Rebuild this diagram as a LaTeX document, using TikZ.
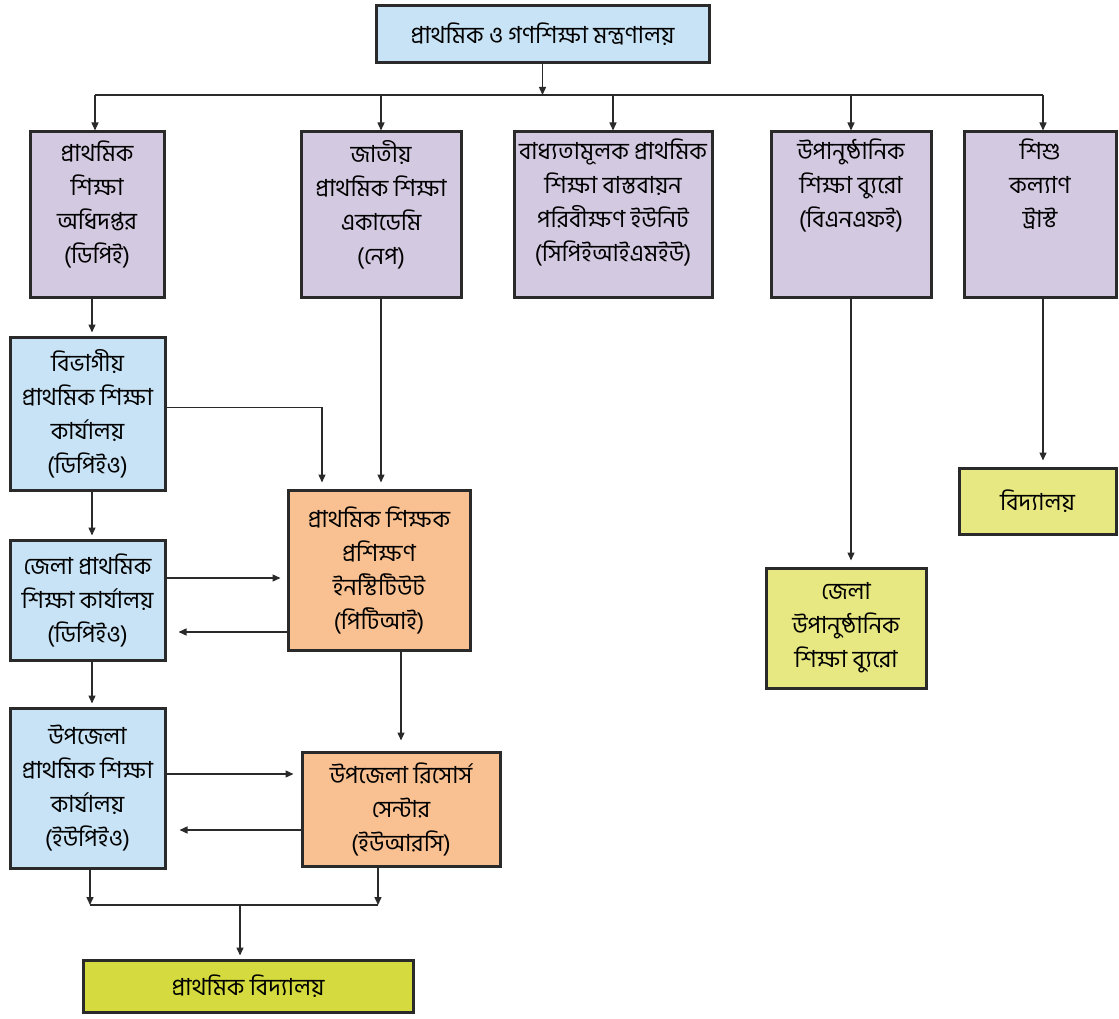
\documentclass[tikz,border=0pt]{standalone}
\usepackage{fontspec}
\setmainfont[Script=Bengali]{Hind Siliguri}
\usetikzlibrary{arrows.meta,calc}
\definecolor{purp}{HTML}{D3C9E1}
\definecolor{lblue}{HTML}{C7E3F5}
\definecolor{orng}{HTML}{F9C191}
\definecolor{lyel}{HTML}{E8E882}
\definecolor{gyel}{HTML}{D5DB3E}
\definecolor{edgec}{HTML}{2A2A2A}
\tikzset{
  boxbase/.style={draw=edgec, line width=3pt, inner sep=0pt, align=center,
    font=\fontsize{23.5}{34}\selectfont},
  pbox/.style={boxbase, fill=purp},
  bbox/.style={boxbase, fill=lblue},
  obox/.style={boxbase, fill=orng},
  ybox/.style={boxbase, fill=lyel},
  gbox/.style={boxbase, fill=gyel},
  txt/.style={inner sep=0pt, align=center, font=\fontsize{23.5}{34}\selectfont, anchor=north},
  ln/.style={draw=edgec, line width=1.4pt},
  arr/.style={ln, -{Triangle[length=8pt,width=7pt]}}
}
\begin{document}
\begin{tikzpicture}[x=1pt,y=-1pt]
\useasboundingbox (0,0) rectangle (1119,1019);
% boxes
\node[bbox, minimum width=333pt, minimum height=57pt] (top) at (542.5,34.5) {প্রাথমিক ও গণশিক্ষা মন্ত্রণালয়};

\node[pbox, minimum width=134pt, minimum height=165pt] (dpe) at (97,214.5) {};
\node[pbox, minimum width=160pt, minimum height=165pt] (nape) at (381,214.5) {};
\node[pbox, minimum width=198pt, minimum height=165pt] (cpe) at (613,214.5) {};
\node[pbox, minimum width=160pt, minimum height=165pt] (bnfe) at (851,214.5) {};
\node[pbox, minimum width=152pt, minimum height=165pt] (trust) at (1040,214.5) {};
\node[txt] (dpeT) at ([yshift=-10pt]dpe.north) {প্রাথমিক\\শিক্ষা\\অধিদপ্তর\\(ডিপিই)};
\node[txt] (napeT) at ([yshift=-10pt]nape.north) {জাতীয়\\প্রাথমিক শিক্ষা\\একাডেমি\\(নেপ)};
\node[txt] (cpeT) at ([yshift=-8pt]cpe.north) {বাধ্যতামূলক প্রাথমিক\\শিক্ষা বাস্তবায়ন\\পরিবীক্ষণ ইউনিট\\(সিপিইআইএমইউ)};
\node[txt] (bnfeT) at ([yshift=-8pt]bnfe.north) {উপানুষ্ঠানিক\\শিক্ষা ব্যুরো\\(বিএনএফই)};
\node[txt] (trustT) at ([yshift=-8pt]trust.north) {শিশু\\কল্যাণ\\ট্রাস্ট};

\node[bbox, minimum width=155pt, minimum height=153pt] (b1) at (87.5,413.5) {বিভাগীয়\\প্রাথমিক শিক্ষা\\কার্যালয়\\(ডিপিইও)};
\node[bbox, minimum width=155pt, minimum height=120pt] (b2) at (87.5,600) {জেলা প্রাথমিক\\শিক্ষা কার্যালয়\\(ডিপিইও)};
\node[bbox, minimum width=155pt, minimum height=160pt] (b3) at (87.5,788) {উপজেলা\\প্রাথমিক শিক্ষা\\কার্যালয়\\(ইউপিইও)};

\node[obox, minimum width=182pt, minimum height=160pt] (pti) at (379,570) {প্রাথমিক শিক্ষক\\প্রশিক্ষণ\\ইনস্টিটিউট\\(পিটিআই)};
\node[obox, minimum width=198pt, minimum height=114pt] (urc) at (401,809) {উপজেলা রিসোর্স\\সেন্টার\\(ইউআরসি)};

\node[ybox, minimum width=160pt, minimum height=120pt] (jub) at (846,628) {জেলা\\উপানুষ্ঠানিক\\শিক্ষা ব্যুরো};
\node[ybox, minimum width=157pt, minimum height=66pt] (sch) at (1037.5,501) {বিদ্যালয়};
\node[gbox, minimum width=330pt, minimum height=52pt] (ps) at (248,986) {প্রাথমিক বিদ্যালয়};

% top bus
\coordinate (busL) at (95,95);
\coordinate (busR) at (1043,95);
\draw[ln] (busL) -- (busR);
\draw[arr] (top.south) -- (top.south |- busL);
\draw[arr] (busL) -- (dpe.north -| busL);
\draw[arr] (nape.north |- busL) -- (nape.north);
\draw[arr] (cpe.north |- busL) -- (cpe.north);
\draw[arr] (bnfe.north |- busL) -- (bnfe.north);
\draw[arr] (busR) -- (trust.north -| busR);

% left column
\draw[arr] ($(dpe.south)+(-5,0)$) -- ($(dpe.south |- b1.north)+(-5,-3)$);
\draw[arr] (b1.south -| 92,0) -- ($(b2.north -| 92,0)+(0,-3)$);
\draw[arr] (b2.south -| 92,0) -- ($(b3.north -| 92,0)+(0,-3)$);

% to PTI
\draw[arr] ($(b1.east)+(0,-6)$) -| ($(pti.north)+(-57,-6)$);
\draw[arr] (nape.south) -- ($(nape.south |- pti.north)+(0,-6)$);
\draw[arr] ($(b2.east)+(0,-22)$) -- ($(b2.east -| pti.west)+(-6,-22)$);
\draw[arr] ($(pti.west |- b2.east)+(0,32)$) -- ($(b2.east)+(12,32)$);

% PTI to URC
\draw[arr] ($(pti.south -| urc.north)$) -- ($(urc.north)+(0,-10)$);
% B3 <-> URC
\draw[arr] ($(b3.east)+(0,-14)$) -- ($(b3.east -| urc.west)+(-7,-14)$);
\draw[arr] ($(urc.west |- b3.east)+(0,42)$) -- ($(b3.east)+(13,42)$);

% bottom bus
\coordinate (bbL) at (90,905);
\coordinate (bbR) at (378,905);
\coordinate (bbM) at (240,905);
\draw[ln] (bbL) -- (bbR);
\draw[arr] (b3.south -| bbL) -- (bbL);
\draw[arr] (urc.south -| bbR) -- (bbR);
\draw[arr] (bbM) -- ($(bbM |- ps.north)+(0,-3)$);

% right side
\draw[arr] (bnfe.south) -- ($(bnfe.south |- jub.north)+(0,-6)$);
\draw[arr] ($(trust.south)+(3,0)$) -- ($(trust.south |- sch.north)+(3,-6)$);
\end{tikzpicture}
\end{document}
